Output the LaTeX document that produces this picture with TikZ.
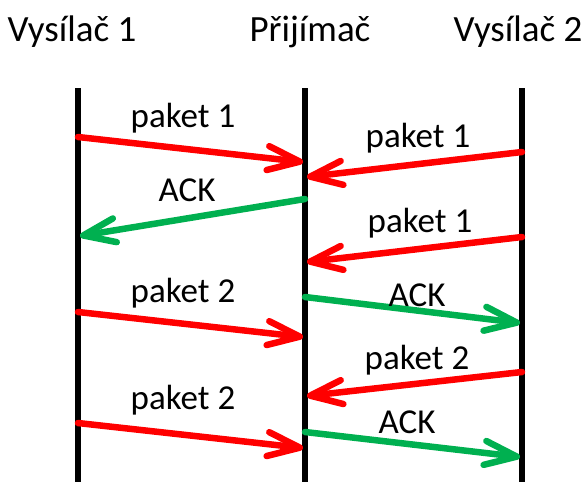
\documentclass[tikz,border=0pt]{standalone}
\usepackage{fontspec}
\setmainfont{Carlito}
\usetikzlibrary{arrows.meta}
\definecolor{pktred}{RGB}{255,0,0}
\definecolor{ackgreen}{RGB}{0,176,80}
\begin{document}
\begin{tikzpicture}[x=1pt,y=-1pt,
  life/.style={line width=5.5pt},
  msg/.style={line width=6.5pt,line cap=round,line join=round,
    -{Straight Barb[length=32pt,width=24pt,line cap=round,line join=round]}},
  pkt/.style={msg,draw=pktred},
  ack/.style={msg,draw=ackgreen},
  hdr/.style={font=\fontsize{37}{42}\selectfont,inner sep=0pt},
  lbl/.style={font=\fontsize{35}{40}\selectfont,inner sep=0pt}]
\useasboundingbox (0,0) rectangle (585,482);
% lifelines
\coordinate (t1) at (78,88);  \coordinate (b1) at (78,482);
\coordinate (t2) at (305,88); \coordinate (b2) at (305,482);
\coordinate (t3) at (522,88); \coordinate (b3) at (522,482);
\draw[life] (t1) -- (b1);
\draw[life] (t2) -- (b2);
\draw[life] (t3) -- (b3);
% headers
\node[hdr] (h1) at (72,32) {Vysílač 1};
\node[hdr] (h2) at (310,32) {Přijímač};
\node[hdr] (h3) at (518,32) {Vysílač 2};
% arrow ends
\coordinate (a1s) at (78,137);  \coordinate (a1e) at (303,162);
\coordinate (a2s) at (522,152); \coordinate (a2e) at (307,177);
\coordinate (a3s) at (305,199); \coordinate (a3e) at (80,236);
\coordinate (a4s) at (522,237); \coordinate (a4e) at (307,262);
\coordinate (a5s) at (78,312);  \coordinate (a5e) at (303,337);
\coordinate (a6s) at (305,297); \coordinate (a6e) at (520,323);
\coordinate (a7s) at (522,372); \coordinate (a7e) at (307,396);
\coordinate (a8s) at (78,423);  \coordinate (a8e) at (303,448);
\coordinate (a9s) at (305,432); \coordinate (a9e) at (520,457);
\draw[pkt] (a1s) -- (a1e);
\draw[pkt] (a2s) -- (a2e);
\draw[ack] (a3s) -- (a3e);
\draw[pkt] (a4s) -- (a4e);
\draw[pkt] (a5s) -- (a5e);
\draw[ack] (a6s) -- (a6e);
\draw[pkt] (a7s) -- (a7e);
\draw[pkt] (a8s) -- (a8e);
\draw[ack] (a9s) -- (a9e);
% labels
\node[lbl] (l1) at (183,118) {paket 1};
\node[lbl] (l2) at (418,138) {paket 1};
\node[lbl] (l3) at (187,190) {ACK};
\node[lbl] (l4) at (420,223) {paket 1};
\node[lbl] (l5) at (183,293) {paket 2};
\node[lbl] (l6) at (417,295) {ACK};
\node[lbl] (l7) at (417,360) {paket 2};
\node[lbl] (l8) at (183,400) {paket 2};
\node[lbl] (l9) at (407,422) {ACK};
\end{tikzpicture}
\end{document}
